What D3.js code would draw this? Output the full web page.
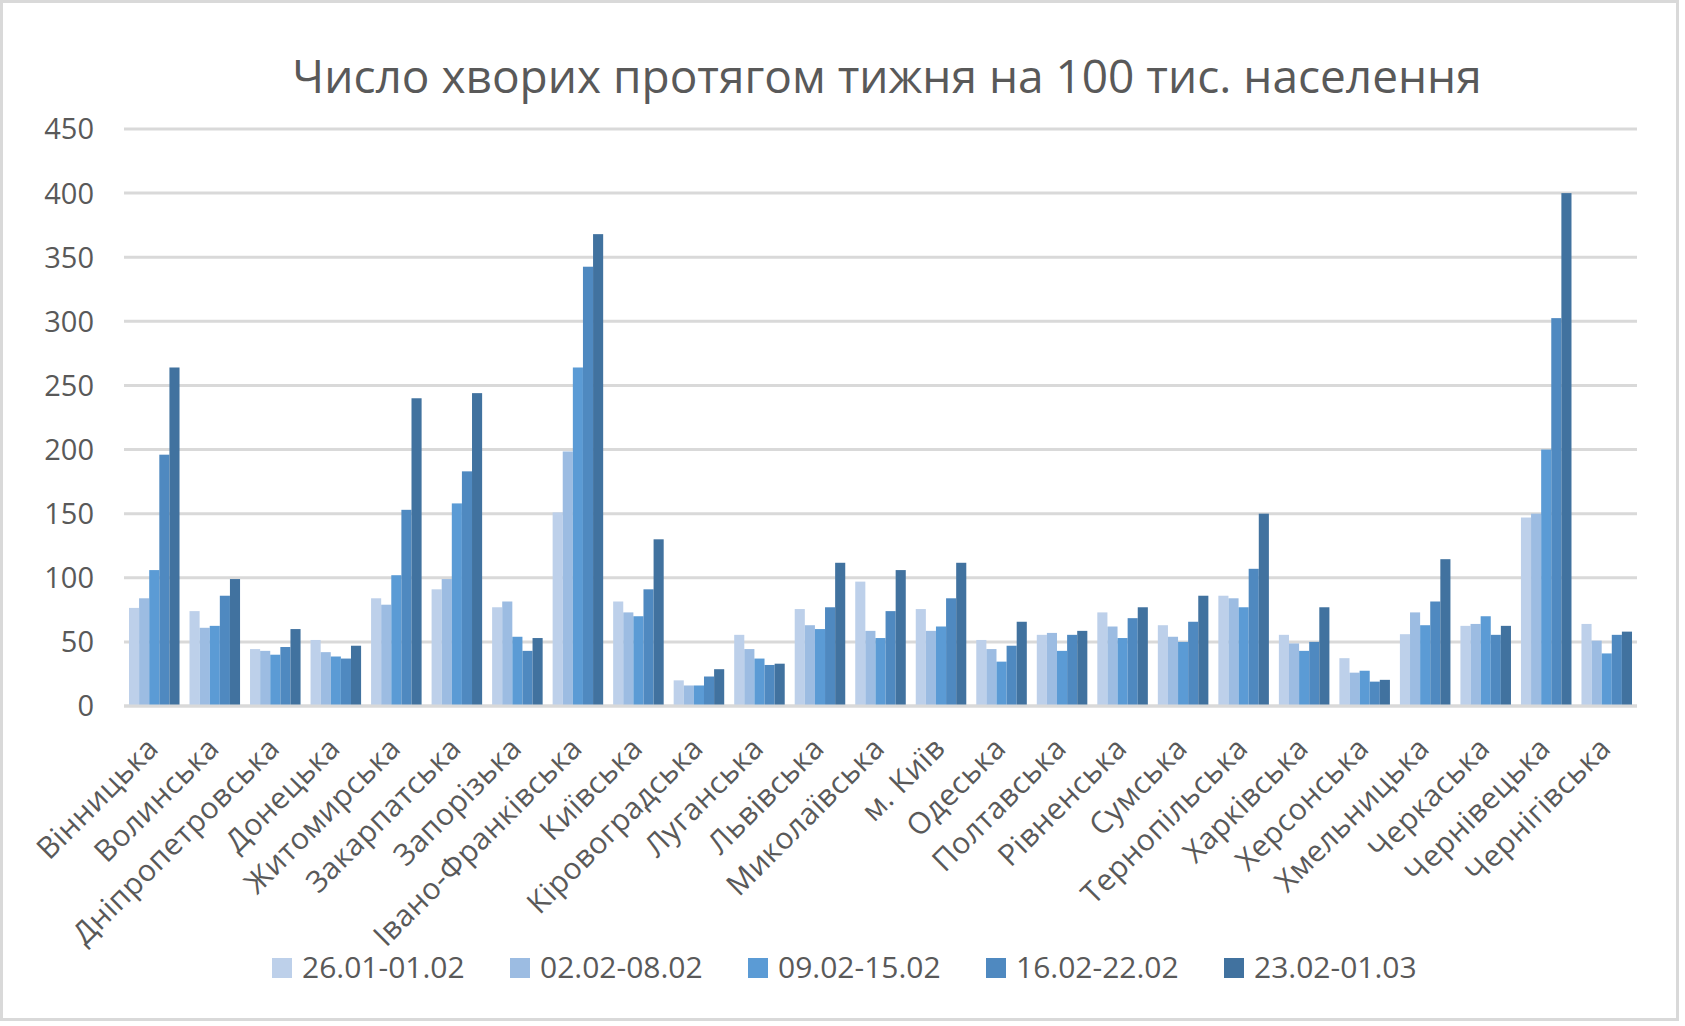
<!DOCTYPE html>
<html>
<head>
<meta charset="utf-8">
<script src="https://cdn.jsdelivr.net/npm/d3@7"></script>
<style>
  body { margin: 0; background: #fff; }
  text { font-family: "Open Sans", sans-serif; fill: #595959; }
</style>
</head>
<body>
<svg id="plot"></svg>
<script>
// Regions (x axis categories)
var regions = ["Вінницька", "Волинська", "Дніпропетровська", "Донецька", "Житомирська",
  "Закарпатська", "Запорізька", "Івано-Франківська", "Київська", "Кіровоградська",
  "Луганська", "Львівська", "Миколаївська", "м. Київ", "Одеська", "Полтавська",
  "Рівненська", "Сумська", "Тернопільська", "Харківська", "Херсонська",
  "Хмельницька", "Черкаська", "Чернівецька", "Чернігівська"];

// Weeks (series names)
var weeks = ["26.01-01.02", "02.02-08.02", "09.02-15.02", "16.02-22.02", "23.02-01.03"];

// Values per week, one per region
var week1 = [76.5, 74, 44.4, 51.5, 84, 91, 77, 151, 81.5, 20, 55.5, 75.6, 97, 75.6, 51.5, 55.5, 73, 63, 86, 55.5, 37.3, 56, 62.5, 147, 64];
var week2 = [84, 61, 43, 42, 79, 99, 81.5, 198.5, 73, 16, 44.4, 63, 58.6, 58.6, 44.4, 57, 62, 54, 84, 48.8, 26, 73, 64, 150, 51];
var week3 = [106, 62.5, 40, 38.6, 102, 158, 54, 264, 70, 16, 37, 60, 53, 62, 34.6, 43, 53, 50, 77, 43, 27.5, 63, 70, 200, 41];
var week4 = [196, 86, 46, 37, 153, 183, 43, 342.6, 91, 23, 32, 77, 74, 84, 47, 55.5, 68.5, 65.7, 107, 50, 19, 81.5, 55.5, 302.5, 55.5];
var week5 = [264, 99, 60, 47, 240, 244, 53, 368, 130, 28.7, 33, 111.7, 106, 111.7, 65.7, 58.6, 77, 86, 150, 77, 20.4, 114.5, 62.5, 400, 58];

// Y axis ticks
var yTicks = [0, 50, 100, 150, 200, 250, 300, 350, 400, 450];

var colors = ["#bdd0ea", "#9cbce2", "#5b9bd5", "#4f89c0", "#41729f"];
var series = [week1, week2, week3, week4, week5];

var W = 1685, H = 1026;
var plotLeft = 124, plotRight = 1637, plotTop = 129, plotBottom = 706;

var svg = d3.select('#plot')
  .attr('width', W)
  .attr('height', H);

// Chart border
svg.append('rect')
  .attr('x', 1.5).attr('y', 1.5)
  .attr('width', 1676).attr('height', 1018)
  .attr('fill', '#fff')
  .attr('stroke', '#d9d9d9')
  .attr('stroke-width', 3);

var x0 = d3.scaleBand()
  .domain(regions)
  .range([plotLeft, plotRight])
  .paddingInner(0.165)
  .paddingOuter(0.0825);

var x1 = d3.scaleBand()
  .domain(d3.range(weeks.length))
  .range([0, x0.bandwidth()]);

var y = d3.scaleLinear()
  .domain([0, 450])
  .range([plotBottom, plotTop]);

// Gridlines
svg.append('g')
  .selectAll('line')
  .data(yTicks)
  .enter().append('line')
    .attr('x1', plotLeft)
    .attr('x2', plotRight)
    .attr('y1', d => y(d))
    .attr('y2', d => y(d))
    .attr('stroke', '#d9d9d9')
    .attr('stroke-width', 3);

// Y tick labels
svg.append('g')
  .selectAll('text')
  .data(yTicks)
  .enter().append('text')
    .attr('x', 94)
    .attr('y', d => y(d))
    .attr('dy', '0.36em')
    .attr('text-anchor', 'end')
    .style('font-size', '29px')
    .text(d => d);

// Bars
var groups = svg.append('g')
  .selectAll('g')
  .data(regions)
  .enter().append('g')
    .attr('transform', d => 'translate(' + x0(d) + ',0)');

groups.selectAll('rect')
  .data((d, i) => series.map((s, k) => ({ k: k, v: s[i] })))
  .enter().append('rect')
    .attr('x', d => x1(d.k))
    .attr('y', d => y(d.v))
    .attr('width', x1.bandwidth())
    .attr('height', d => plotBottom - y(d.v))
    .attr('fill', d => colors[d.k]);

// Redraw the zero line on top of bars
svg.append('line')
  .attr('x1', plotLeft).attr('x2', plotRight)
  .attr('y1', y(0)).attr('y2', y(0))
  .attr('stroke', '#d9d9d9')
  .attr('stroke-width', 3);

// Category labels
svg.append('g')
  .selectAll('text')
  .data(regions)
  .enter().append('text')
    .attr('text-anchor', 'end')
    .attr('transform', d => 'translate(' + (x0(d) + x0.bandwidth() / 2 + 6) + ',' + (plotBottom + 44) + ') rotate(-45)')
    .style('font-size', '30px')
    .style('letter-spacing', '0.5px')
    .text(d => d);

// Title
svg.append('text')
  .attr('x', 887)
  .attr('y', 93)
  .attr('text-anchor', 'middle')
  .style('font-size', '46px')
  .text('Число хворих протягом тижня на 100 тис. населення');

// Legend
var legend = svg.append('g')
  .selectAll('g')
  .data(weeks)
  .enter().append('g')
    .attr('transform', (d, i) => 'translate(' + (272 + i * 238) + ',958)');

legend.append('rect')
  .attr('width', 20)
  .attr('height', 20)
  .attr('fill', (d, i) => colors[i]);

legend.append('text')
  .attr('x', 30)
  .attr('y', 20)
  .style('font-size', '30px')
  .text(d => d);
</script>
</body>
</html>
